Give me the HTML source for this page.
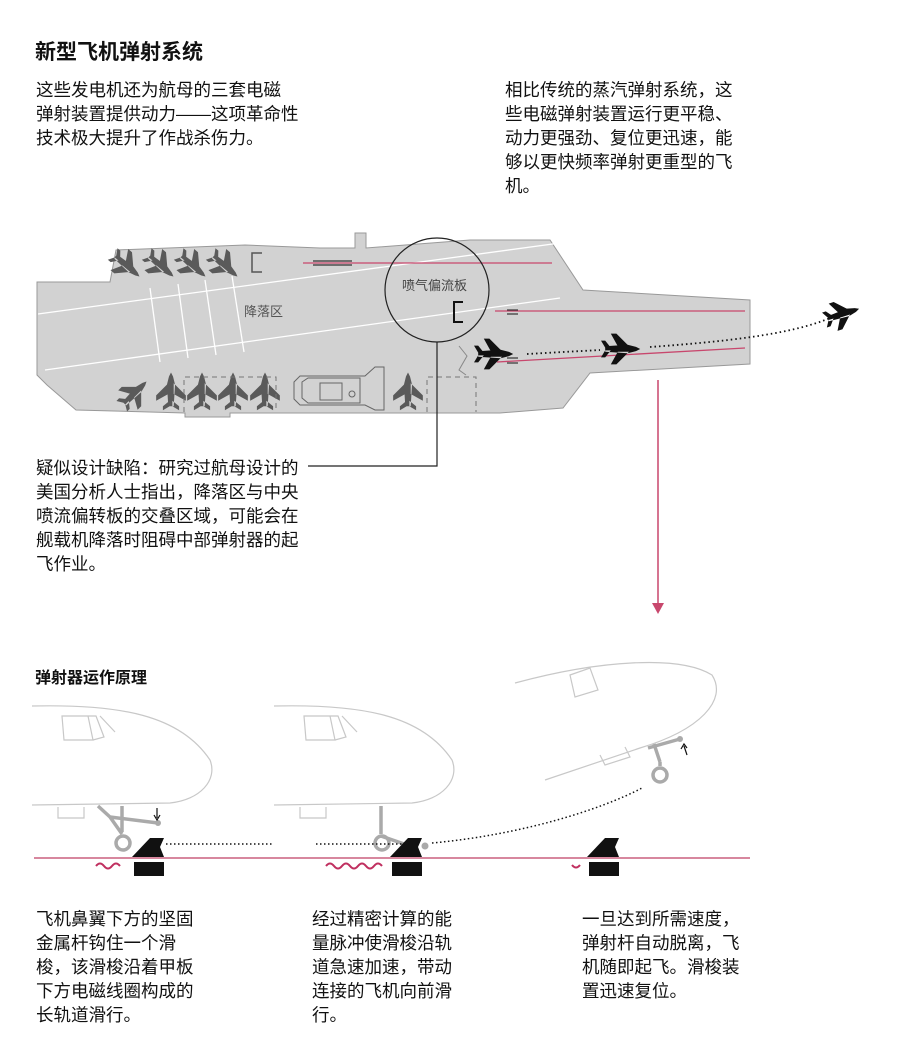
<!DOCTYPE html>
<html><head><meta charset="utf-8"><style>
body{margin:0;width:909px;height:1055px;background:#fff;position:relative;overflow:hidden;font-family:"Liberation Sans","Noto Sans CJK SC",sans-serif;color:#111}
.t{position:absolute;font-size:17.5px;line-height:24px;white-space:nowrap}
h1{position:absolute;left:35px;top:36px;margin:0;font-size:21px;font-weight:bold}
h2{position:absolute;left:35px;top:664px;margin:0;font-size:16px;font-weight:bold}
svg{position:absolute;left:0;top:0}
</style></head><body>
<h1>新型飞机弹射系统</h1>
<div class="t" style="left:36px;top:78px">这些发电机还为航母的三套电磁<br>弹射装置提供动力——这项革命性<br>技术极大提升了作战杀伤力。</div>
<div class="t" style="left:505px;top:78px">相比传统的蒸汽弹射系统，这<br>些电磁弹射装置运行更平稳、<br>动力更强劲、复位更迅速，能<br>够以更快频率弹射更重型的飞<br>机。</div>
<div class="t" style="left:36px;top:456px">疑似设计缺陷：研究过航母设计的<br>美国分析人士指出，降落区与中央<br>喷流偏转板的交叠区域，可能会在<br>舰载机降落时阻碍中部弹射器的起<br>飞作业。</div>
<h2>弹射器运作原理</h2>
<div class="t" style="left:36px;top:907px">飞机鼻翼下方的坚固<br>金属杆钩住一个滑<br>梭，该滑梭沿着甲板<br>下方电磁线圈构成的<br>长轨道滑行。</div>
<div class="t" style="left:312px;top:907px">经过精密计算的能<br>量脉冲使滑梭沿轨<br>道急速加速，带动<br>连接的飞机向前滑<br>行。</div>
<div class="t" style="left:582px;top:907px">一旦达到所需速度，<br>弹射杆自动脱离，飞<br>机随即起飞。滑梭装<br>置迅速复位。</div>

<svg width="909" height="1055" viewBox="0 0 909 1055">
<defs>
<g id="jet"><path d="M-12 -2 L4 -3 L10 -1.5 L13 0 L10 1.5 L4 3 L-12 2 Z M-3 -2 L-8 -11 L-4 -11 L5 -2 Z M-3 2 L-8 11 L-4 11 L5 2 Z M-12 -1 L-15 -6 L-12 -6 L-8 -1Z M-12 1 L-15 6 L-12 6 L-8 1Z"/></g>
</defs>
<path d="M37 282 L110 282 L116 250 L245 245 L320 248 L355 248 L355 233 L366 233 L366 248 L470 240 L550 240 L583 290 L750 300 L750 364 L590 373 L563 408 L500 413 L480 413 L430 413 L230 413 L230 417 L185 417 L185 413 L76 410 L47 385 L37 375 Z" fill="#d2d2d2" stroke="#999" stroke-width="1"/>
<g stroke="#fff" stroke-width="1.3" fill="none">
<line x1="38" y1="314" x2="560" y2="243"/>
<line x1="45" y1="370" x2="560" y2="298"/>
<line x1="150" y1="288" x2="160" y2="362"/>
<line x1="178" y1="284" x2="188" y2="358"/>
<line x1="205" y1="280" x2="216" y2="355"/>
<line x1="232" y1="276" x2="244" y2="352"/>
</g>
<text x="244" y="316" font-size="13" fill="#555" font-family="Noto Sans CJK SC">降落区</text>
<g stroke="#c8476d" stroke-width="1.3">
<line x1="303" y1="263" x2="552" y2="263"/>
<line x1="495" y1="311" x2="745" y2="311"/>
<line x1="497" y1="362" x2="745" y2="348"/>
</g>
<g stroke="#333" stroke-width="1.2">
<line x1="313" y1="261" x2="352" y2="261"/><line x1="313" y1="265" x2="352" y2="265"/>
<line x1="507" y1="310" x2="518" y2="310"/><line x1="507" y1="314" x2="518" y2="314"/>
<line x1="507" y1="358" x2="518" y2="358"/><line x1="507" y1="363" x2="518" y2="363"/>
</g>
<path d="M262 253 L252 253 L252 272 L262 272" stroke="#555" stroke-width="1.5" fill="none"/>
<path d="M463 302 L454 302 L454 322 L463 322" stroke="#111" stroke-width="2" fill="none"/>
<path d="M459 346 L467 356 L459 370 L466 375" stroke="#888" stroke-width="1" fill="none"/>
<g fill="#5a5a5a">
<use href="#jet" transform="translate(127 266) rotate(40) scale(1.25)"/>
<use href="#jet" transform="translate(161 266) rotate(40) scale(1.25)"/>
<use href="#jet" transform="translate(193 266) rotate(40) scale(1.25)"/>
<use href="#jet" transform="translate(225 266) rotate(40) scale(1.25)"/>
<use href="#jet" transform="translate(135 393) rotate(-45) scale(1.25)"/>
<use href="#jet" transform="translate(171 390) rotate(-90) scale(1.35)"/>
<use href="#jet" transform="translate(202 390) rotate(-90) scale(1.35)"/>
<use href="#jet" transform="translate(233 390) rotate(-90) scale(1.35)"/>
<use href="#jet" transform="translate(265 390) rotate(-90) scale(1.35)"/>
<use href="#jet" transform="translate(408 390) rotate(-90) scale(1.35)"/>
</g>
<g stroke="#777" stroke-dasharray="5,4" fill="none" stroke-width="1">
<path d="M184 412 L184 377 L276 377 L276 412"/>
<path d="M427 412 L427 377 L476 377 L476 412"/>
</g>
<path d="M294 382 L300 376 L365 376 L375 367 L384 367 L384 410 L375 410 L365 405 L300 405 L294 399 Z" fill="none" stroke="#666" stroke-width="1"/>
<path d="M302 382 L308 378 L360 378 L360 403 L308 403 L302 398 Z" fill="none" stroke="#666" stroke-width="1"/>
<rect x="320" y="383" width="22" height="17" fill="none" stroke="#666"/>
<circle cx="352" cy="394" r="3" fill="none" stroke="#666"/>
<circle cx="437" cy="290" r="52" fill="none" stroke="#222" stroke-width="1.2"/>
<text x="402" y="290" font-size="13" fill="#444" font-family="Noto Sans CJK SC">喷气偏流板</text>
<path d="M437 342 L437 466 L308 466" stroke="#222" stroke-width="1.2" fill="none"/>
<g fill="#111">
<use href="#jet" transform="translate(495 354) scale(1.4)"/>
<use href="#jet" transform="translate(622 349) scale(1.4)"/>
<use href="#jet" transform="translate(843 314) rotate(-18) scale(1.3)"/>
</g>
<path d="M527 354 L600 350 M650 347 C720 342 790 335 830 318" stroke="#111" stroke-width="1.8" stroke-dasharray="1.5,3" fill="none"/>
<line x1="658" y1="380" x2="658" y2="605" stroke="#c8476d" stroke-width="1.5"/>
<path d="M652 603 L664 603 L658 614 Z" fill="#c8476d"/>

<g fill="none" stroke="#c8c8c8" stroke-width="1.2">
<path d="M32 706 C120 704 180 715 210 760 C218 780 200 800 170 803 L32 805"/>
<path d="M62 716 L88 716 L93 740 L64 740 Z M88 716 L96 716 L104 737 L93 740 M100 716 L115 732"/>
<path d="M58 807 L58 818 L84 818 L84 807"/>
<path d="M274 706 C362 704 422 715 452 760 C460 780 442 800 412 803 L274 805"/>
<path d="M304 716 L330 716 L335 740 L306 740 Z M330 716 L338 716 L346 737 L335 740 M342 716 L357 732"/>
<path d="M300 807 L300 818 L326 818 L326 807"/>
<path d="M515 683 C600 660 680 655 712 675 C728 700 700 730 640 748 L545 780"/>
<path d="M570 675 L590 668 L598 690 L575 697 Z"/>
<path d="M600 755 L605 765 L630 757 L625 747"/>
</g>
<g stroke="#aaa" stroke-width="3.5" fill="none">
<path d="M98 806 L110 817 L122 834 M122 806 L122 832 M110 817 L158 823"/>
<circle cx="123" cy="843" r="7"/>
<path d="M381 806 L381 834 M381 836 L410 846"/>
<circle cx="382" cy="843" r="7"/>
<path d="M654 744 L660 762 M648 748 L680 739 M660 762 L660 766"/>
<circle cx="660" cy="775" r="7"/>
</g>
<g fill="#aaa"><circle cx="158" cy="823" r="3"/><circle cx="425" cy="846" r="3.5"/><circle cx="680" cy="739" r="3"/></g>
<path d="M157 808 L157 818 M154 815 L157 820 L160 815" stroke="#111" stroke-width="1.2" fill="none"/>
<path d="M687 755 L684 746 M681 749 L684 744 L687 748" stroke="#111" stroke-width="1.2" fill="none"/>
<g fill="#111">
<path d="M132 857 L150 838 L164 838 L160 847 L164 857 Z"/>
<path d="M390 857 L408 838 L422 838 L418 847 L422 857 Z"/>
<path d="M587 857 L605 838 L619 838 L615 847 L619 857 Z"/>
<rect x="134" y="862" width="30" height="14"/>
<rect x="392" y="862" width="30" height="14"/>
<rect x="589" y="862" width="30" height="14"/>
</g>
<line x1="34" y1="858" x2="750" y2="858" stroke="#d7879e" stroke-width="2"/>
<path d="M166 844 L272 844 M316 844 L420 844" stroke="#111" stroke-width="1.5" stroke-dasharray="1.5,2.5"/>
<path d="M432 843 C520 835 600 810 642 788" stroke="#111" stroke-width="1.5" stroke-dasharray="1.5,2.5" fill="none"/>
<g stroke="#c03060" stroke-width="2" fill="none">
<path d="M96 866 q4 -5 8 0 t8 0 t8 0"/>
<path d="M326 866 q4 -5 8 0 t8 0 t8 0 t8 0 t8 0 t8 0 t8 0"/>
<path d="M572 865 q4 5 8 0"/>
</g>
</svg>
</body></html>
